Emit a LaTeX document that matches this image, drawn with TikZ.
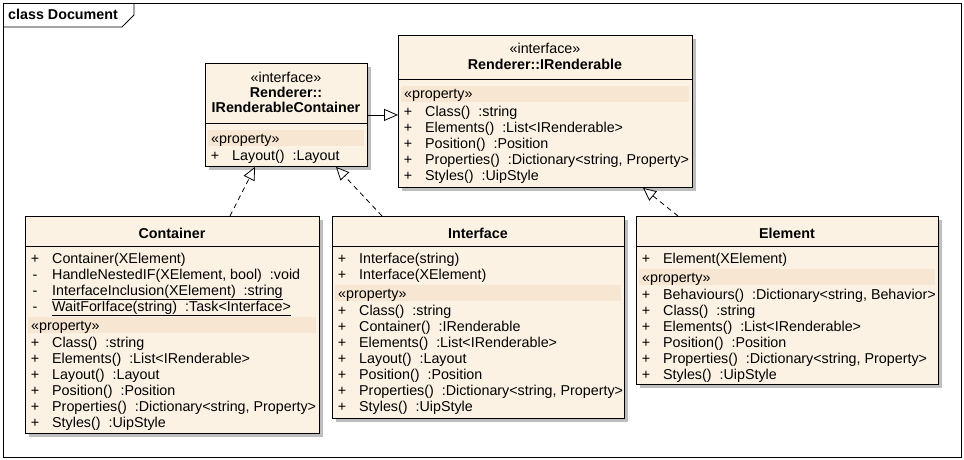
\documentclass[tikz,border=0pt]{standalone}
\usepackage{fontspec}
\setmainfont{Liberation Sans}
\usetikzlibrary{arrows.meta,calc,shadows}
\definecolor{boxfill}{RGB}{252,242,228}
\definecolor{bandfill}{RGB}{246,230,210}
\definecolor{shadowc}{RGB}{190,190,190}
\newcommand\mrow[5]{%
  \node[mtext,anchor=base] (#1s) at (#2+10,#3+5) {#4};
  \node[mtext,anchor=base west] (#1t) at (#2+27,#3+5) {#5};}
\newcommand\prop[3]{%
  \node[mtext,anchor=base west] (#1) at (#2+6,#3+5) {«property»};}
\begin{document}
\begin{tikzpicture}[x=1pt,y=-1pt,
  mtext/.style={inner sep=0pt,font=\fontsize{14.3}{16}\selectfont},
  ttext/.style={inner sep=0pt,font=\fontsize{14.3}{16}\selectfont\bfseries},
  classbox/.style={draw=black,line width=0.9pt,fill=boxfill,anchor=north west,inner sep=0pt,
    drop shadow={shadow xshift=4pt,shadow yshift=-4pt,fill=shadowc,opacity=1}},
  band/.style={fill=bandfill,draw=none},
  sep/.style={draw=black,line width=0.9pt},
  realiz/.style={draw=black,line width=0.8pt,dash pattern=on 5pt off 4pt,
    -{Triangle[length=13pt,width=12pt,fill=white]}},
  gen/.style={draw=black,line width=0.8pt,-{Triangle[length=14pt,width=12pt,fill=white]}}
]
\useasboundingbox (0,0) rectangle (964,460);
% frame
\draw[line width=0.9pt] (3,3) rectangle (961,457);
\draw[line width=0.9pt] (3,27) -- (122,27) -- (134,15) -- (134,3);
\node[ttext,anchor=base west] (frametitle) at (8,20) {class Document};

% boxes
\node[classbox,minimum width=162pt,minimum height=103pt] (ircont) at (205,63) {};
\node[classbox,minimum width=294pt,minimum height=152pt] (irend) at (398,35) {};
\node[classbox,minimum width=294pt,minimum height=217pt] (cont) at (25,216) {};
\node[classbox,minimum width=292pt,minimum height=202pt] (iface) at (332,216) {};
\node[classbox,minimum width=302pt,minimum height=168pt] (elem) at (636,216) {};

% bands
\fill[band] (208,130) rectangle (364,146);
\fill[band] (401,86) rectangle (689,102);
\fill[band] (28,317) rectangle (316,333);
\fill[band] (335,285) rectangle (621,301);
\fill[band] (639,269) rectangle (935,285);

% separators
\draw[sep] ($(ircont.north west)+(0,60)$) -- ($(ircont.north east)+(0,60)$);
\draw[sep] ($(irend.north west)+(0,44)$) -- ($(irend.north east)+(0,44)$);
\draw[sep] ($(cont.north west)+(0,30)$) -- ($(cont.north east)+(0,30)$);
\draw[sep] ($(iface.north west)+(0,30)$) -- ($(iface.north east)+(0,30)$);
\draw[sep] ($(elem.north west)+(0,30)$) -- ($(elem.north east)+(0,30)$);

% IRenderableContainer
\node[mtext,anchor=base] (ircst) at (286,83) {«interface»};
\node[ttext,anchor=base] (ircn1) at (286,98) {Renderer::};
\node[ttext,anchor=base] (ircn2) at (286,113) {IRenderableContainer};
\prop{ircp}{205}{138}
\mrow{irca}{205}{155}{+}{Layout()\ \ :Layout}

% IRenderable
\node[mtext,anchor=base] (irst) at (545,54) {«interface»};
\node[ttext,anchor=base] (irn) at (545,70) {Renderer::IRenderable};
\prop{irp}{398}{94}
\mrow{ira}{398}{111}{+}{Class()\ \ :string}
\mrow{irb}{398}{127}{+}{Elements()\ \ :List<IRenderable>}
\mrow{irc}{398}{143}{+}{Position()\ \ :Position}
\mrow{ird}{398}{159}{+}{Properties()\ \ :Dictionary<string, Property>}
\mrow{ire}{398}{175}{+}{Styles()\ \ :UipStyle}

% Container
\node[ttext,anchor=base] (contn) at (172,238) {Container};
\mrow{ca}{25}{258}{+}{Container(XElement)}
\mrow{cb}{25}{274}{-}{HandleNestedIF(XElement, bool)\ \ :void}
\mrow{cc}{25}{290}{-}{\underline{InterfaceInclusion(XElement)\ \ :string}}
\mrow{cd}{25}{306}{-}{\underline{WaitForIface(string)\ \ :Task<Interface>}}
\prop{cp}{25}{325}
\mrow{ce}{25}{342}{+}{Class()\ \ :string}
\mrow{cf}{25}{358}{+}{Elements()\ \ :List<IRenderable>}
\mrow{cg}{25}{374}{+}{Layout()\ \ :Layout}
\mrow{ch}{25}{390}{+}{Position()\ \ :Position}
\mrow{ci}{25}{406}{+}{Properties()\ \ :Dictionary<string, Property>}
\mrow{cj}{25}{422}{+}{Styles()\ \ :UipStyle}

% Interface
\node[ttext,anchor=base] (ifn) at (478,238) {Interface};
\mrow{ia}{332}{258}{+}{Interface(string)}
\mrow{ib}{332}{274}{+}{Interface(XElement)}
\prop{ip}{332}{293}
\mrow{ic}{332}{310}{+}{Class()\ \ :string}
\mrow{id}{332}{326}{+}{Container()\ \ :IRenderable}
\mrow{ie}{332}{342}{+}{Elements()\ \ :List<IRenderable>}
\mrow{if}{332}{358}{+}{Layout()\ \ :Layout}
\mrow{ig}{332}{374}{+}{Position()\ \ :Position}
\mrow{ih}{332}{390}{+}{Properties()\ \ :Dictionary<string, Property>}
\mrow{ii}{332}{406}{+}{Styles()\ \ :UipStyle}

% Element
\node[ttext,anchor=base] (eln) at (787,238) {Element};
\mrow{ea}{636}{258}{+}{Element(XElement)}
\prop{ep}{636}{277}
\mrow{eb}{636}{294}{+}{Behaviours()\ \ :Dictionary<string, Behavior>}
\mrow{ec}{636}{310}{+}{Class()\ \ :string}
\mrow{ed}{636}{326}{+}{Elements()\ \ :List<IRenderable>}
\mrow{ee}{636}{342}{+}{Position()\ \ :Position}
\mrow{ef}{636}{358}{+}{Properties()\ \ :Dictionary<string, Property>}
\mrow{eg}{636}{374}{+}{Styles()\ \ :UipStyle}

% connectors
\draw[gen] (ircont.east) -- (ircont.east -| irend.west);
\draw[realiz] ($(cont.north west)+(205,0)$) -- ($(ircont.south west)+(50,0)$);
\draw[realiz] ($(iface.north west)+(50,0)$) -- ($(ircont.south west)+(131,0)$);
\draw[realiz] ($(elem.north west)+(42,0)$) -- ($(irend.south west)+(245,0)$);
\end{tikzpicture}
\end{document}
